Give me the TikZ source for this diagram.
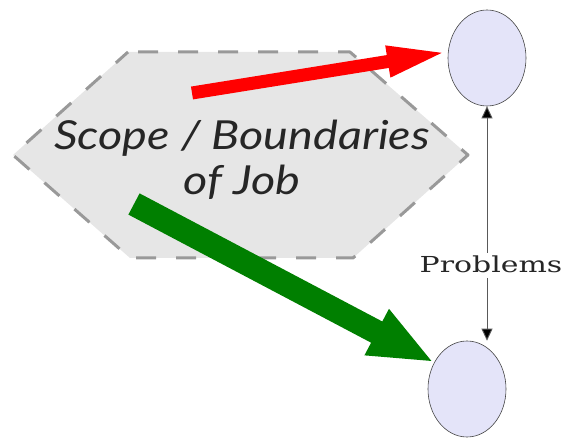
\documentclass[tikz,border=0pt]{standalone}
\usepackage{fontspec}
\setmainfont{DejaVu Serif}
\newfontfamily\scopefont{Lato}
\usetikzlibrary{arrows.meta,shapes.geometric}
\definecolor{hexfill}{HTML}{E6E6E6}
\definecolor{hexline}{HTML}{999999}
\definecolor{ellfill}{HTML}{E4E4F9}
\definecolor{ellline}{HTML}{444444}
\definecolor{redarr}{HTML}{FF0000}
\definecolor{greenarr}{HTML}{007F00}
\tikzset{
  hexshape/.style={fill=hexfill, draw=hexline, line width=3pt, dash pattern=on 20pt off 20pt, dash phase=-10pt, line join=round},
  ellnode/.style={ellipse, fill=ellfill, draw=ellline, line width=0.6pt, minimum width=78pt, minimum height=96pt, inner sep=0pt},
  probline/.style={draw=black!65, line width=0.9pt, -{Triangle[length=12pt,width=11pt,fill=black]}},
}
\begin{document}
\begin{tikzpicture}[x=1pt,y=-1pt]
\useasboundingbox (0,0) rectangle (566,438);
% hexagon
\coordinate (h1) at (128,52);
\coordinate (h2) at (350,52);
\coordinate (h3) at (468,155);
\coordinate (h4) at (353,258);
\coordinate (h5) at (130,258);
\coordinate (h6) at (13,155);
\draw[hexshape] (h1) -- (h2) -- (h3) -- (h4) -- (h5) -- (h6) -- cycle;
\node[font=\scopefont\itshape\fontsize{40}{45}\selectfont, align=center, text=black!85, inner sep=0pt, xscale=1.17] (scope) at (242,160) {Scope / Boundaries\\of Job};
% ellipses
\node[ellnode] (top) at (487,58) {};
\node[ellnode] (bot) at (467,389) {};
% problems
\node[font=\fontsize{22}{24}\selectfont, inner sep=0pt, xscale=1.36, text=black!85] (prob) at (491,264) {Problems};
\coordinate (pt) at (487,253);
\coordinate (pb) at (487,278);
\draw[probline] (pt) -- (top.south);
\draw[probline] (pb) -- (top.south |- bot.north);
% big arrows
\coordinate (rt) at (192,93);
\coordinate (gt) at (134,204);
\draw[redarr, line width=13pt, -{Triangle[length=61pt,width=28pt]}] (rt) -- (top.171);
\draw[greenarr, line width=24pt, -{Triangle[length=65pt,width=47pt]}] (gt) -- (bot.141);
\end{tikzpicture}
\end{document}
